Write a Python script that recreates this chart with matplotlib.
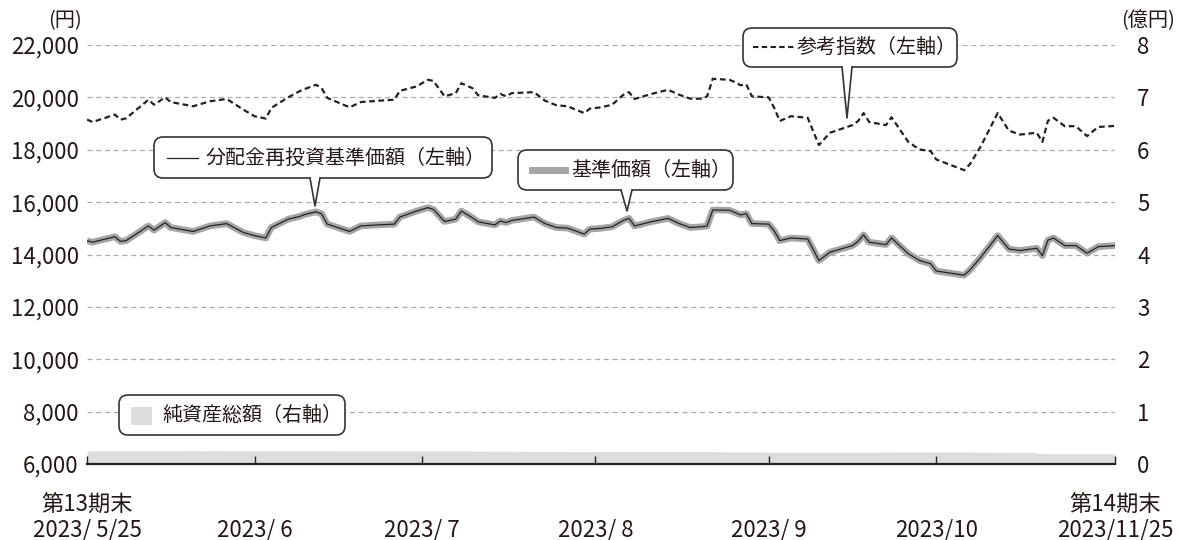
import pandas as pd
import matplotlib.pyplot as plt
from matplotlib.patches import FancyBboxPatch, Polygon, Rectangle
from matplotlib.lines import Line2D
from matplotlib.transforms import IdentityTransform
from matplotlib.ticker import FuncFormatter

plt.rcParams['font.family'] = ['Noto Sans CJK JP', 'DejaVu Sans']

# データ
dates = ['2023-05-25', '2023-05-26', '2023-05-30', '2023-05-31', '2023-06-01', '2023-06-05',
         '2023-06-06', '2023-06-08', '2023-06-09', '2023-06-13', '2023-06-16', '2023-06-19',
         '2023-06-22', '2023-06-24', '2023-06-26', '2023-06-27', '2023-06-30', '2023-07-02',
         '2023-07-03', '2023-07-05', '2023-07-06', '2023-07-07', '2023-07-11', '2023-07-13',
         '2023-07-16', '2023-07-19', '2023-07-20', '2023-07-23', '2023-07-25', '2023-07-26',
         '2023-07-28', '2023-07-30', '2023-07-31', '2023-08-02', '2023-08-03', '2023-08-06',
         '2023-08-07', '2023-08-08', '2023-08-09', '2023-08-13', '2023-08-15', '2023-08-17',
         '2023-08-19', '2023-08-22', '2023-08-23', '2023-08-25', '2023-08-27', '2023-08-29',
         '2023-08-30', '2023-08-31', '2023-09-03', '2023-09-06', '2023-09-08', '2023-09-10',
         '2023-09-12', '2023-09-13', '2023-09-14', '2023-09-17', '2023-09-18', '2023-09-19',
         '2023-09-20', '2023-09-21', '2023-09-24', '2023-09-25', '2023-09-26', '2023-09-28',
         '2023-10-01', '2023-10-03', '2023-10-05', '2023-10-09', '2023-10-10', '2023-10-11',
         '2023-10-12', '2023-10-15', '2023-10-16', '2023-10-19', '2023-10-21', '2023-10-23',
         '2023-10-24', '2023-10-29', '2023-10-30', '2023-11-01', '2023-11-04', '2023-11-06',
         '2023-11-08', '2023-11-11', '2023-11-12', '2023-11-13', '2023-11-14', '2023-11-16',
         '2023-11-18', '2023-11-20', '2023-11-22', '2023-11-25']

ref_index = [19150, 19060, 19340, 19150, 19200, 19910, 19720, 20000, 19820, 19660, 19850, 19940,
             19530, 19280, 19190, 19600, 20000, 20230, 20320, 20480, 20350, 19980, 19620, 19820,
             19870, 19910, 20250, 20420, 20670, 20630, 20040, 20160, 20540, 20350, 20080, 19980,
             20130, 20040, 20160, 20200, 19870, 19700, 19660, 19400, 19570, 19620, 19720, 20100,
             20200, 19940, 20130, 20290, 20100, 19950, 19950, 20040, 20710, 20670, 20580, 20460,
             20500, 20040, 20000, 19600, 19100, 19280, 19220, 18180, 18650, 18940, 19090, 19400,
             19060, 18940, 19240, 18300, 18010, 17950, 17630, 17220, 17440, 18140, 19400, 18730,
             18580, 18650, 18300, 19110, 19220, 18900, 18900, 18520, 18870, 18910]

nav = [14530, 14470, 14680, 14500, 14530, 15090, 14930, 15220, 15030, 14880, 15090, 15180,
       14840, 14720, 14630, 15030, 15350, 15450, 15530, 15630, 15550, 15160, 14880, 15090,
       15130, 15160, 15430, 15660, 15790, 15720, 15260, 15350, 15660, 15400, 15250, 15130,
       15280, 15220, 15300, 15430, 15180, 15030, 15010, 14780, 14970, 15000, 15060, 15300,
       15380, 15090, 15250, 15380, 15180, 15030, 15060, 15090, 15700, 15690, 15600, 15510,
       15560, 15180, 15160, 14900, 14530, 14630, 14590, 13770, 14090, 14340, 14500, 14750,
       14470, 14380, 14630, 14030, 13770, 13650, 13370, 13210, 13400, 13900, 14720, 14210,
       14150, 14240, 13960, 14550, 14630, 14340, 14340, 14050, 14300, 14340]

# 分配金なしのため基準価額と同じ
nav_reinvest = list(nav)

asset_dates = ['2023-05-25', '2023-06-15', '2023-07-10', '2023-08-01', '2023-08-20', '2023-09-10',
               '2023-09-25', '2023-10-10', '2023-10-25', '2023-11-10', '2023-11-12', '2023-11-25']
net_assets = [0.25, 0.255, 0.25, 0.25, 0.235, 0.24, 0.225, 0.225, 0.23, 0.22, 0.2, 0.2]

tick_dates = ['2023-05-25', '2023-06-24', '2023-07-24', '2023-08-24', '2023-09-24',
              '2023-10-24', '2023-11-25']
tick_labels = ['第13期末\n2023/ 5/25', '\n2023/ 6', '\n2023/ 7', '\n2023/ 8', '\n2023/ 9',
               '\n2023/10', '第14期末\n2023/11/25']

W, H = 1181, 540
txt = '#231815'
fs = 16

x = pd.to_datetime(dates)
xa = pd.to_datetime(asset_dates)
xt = pd.to_datetime(tick_dates)

fig = plt.figure(figsize=(W / 100, H / 100), dpi=100)
ax = fig.add_axes([87 / W, 1 - 464 / H, (1115 - 87) / W, (464 - 45) / H])
ax2 = ax.twinx()

# 純資産総額（右軸）
ax2.fill_between(xa, net_assets, 0, color='#dcdddd', lw=0)
ax2.set_ylim(0, 8)
ax2.set_yticks(range(0, 9))
for s in ax2.spines.values():
    s.set_visible(False)
ax2.tick_params(axis='y', length=0, pad=16, labelsize=fs, labelcolor=txt)

ax.set_zorder(ax2.get_zorder() + 1)
ax.patch.set_visible(False)

ax.plot(x, nav, color='#a5a5a8', lw=4.8, solid_joinstyle='round', solid_capstyle='butt')
ax.plot(x, nav_reinvest, color='#222222', lw=0.9)
ax.plot(x, ref_index, color='#222222', lw=1.6, ls=(0, (2.6, 1.6)))

ax.set_ylim(6000, 22000)
ax.set_yticks(range(6000, 22001, 2000))
ax.yaxis.set_major_formatter(FuncFormatter(lambda v, p: f'{int(v):,}'))
ax.yaxis.grid(True, color='#aaaaaa', lw=0.9, ls=(0, (4, 3)))
ax.tick_params(axis='y', length=0, pad=6, labelsize=fs, labelcolor=txt)

ax.set_xlim(x[0], x[-1])
ax.set_xticks(xt)
ax.set_xticklabels(tick_labels, linespacing=1.15)
ax.tick_params(axis='x', direction='in', length=6, width=1, pad=21, labelsize=fs,
               labelcolor=txt, color='#222222')
for side in ['top', 'left', 'right']:
    ax.spines[side].set_visible(False)
ax.spines['bottom'].set_linewidth(1.6)
ax.spines['bottom'].set_color('#222222')

T = IdentityTransform()

# 単位
fig.text(65, H - 21, '(円)', transform=T, ha='center', va='center', fontsize=14.5, color=txt)
fig.text(1148, H - 21, '(億円)', transform=T, ha='center', va='center', fontsize=14.5,
         color=txt)


def bubble(x0, y0, x1, y1, tip=None, base=None):
    box = FancyBboxPatch((x0, H - y1), x1 - x0, y1 - y0,
                         boxstyle='round,pad=0,rounding_size=9', transform=T,
                         fc='white', ec='#333333', lw=1.2, zorder=5)
    fig.add_artist(box)
    if tip is not None:
        yb = H - y1
        tx, ty = tip[0], H - tip[1]
        fig.add_artist(Polygon([(base[0], yb + 1.5), (base[1], yb + 1.5), (tx, ty)],
                               closed=True, transform=T, fc='white', ec='none', zorder=6))
        fig.add_artist(Line2D([base[0], tx, base[1]], [yb, ty, yb], transform=T,
                              color='#333333', lw=1.2, zorder=7))


lfs = 14.4

bubble(743, 28, 957, 67, tip=(847, 118), base=(842, 852))
fig.add_artist(Line2D([753, 795], [H - 47, H - 47], transform=T, color='#222222', lw=1.5,
                      ls=(0, (2.6, 1.6)), zorder=8))
fig.text(797, H - 47, '参考指数（左軸）', transform=T, va='center', fontsize=lfs, color=txt,
         zorder=8)

bubble(154, 137, 492, 178, tip=(315, 206), base=(310, 320))
fig.add_artist(Line2D([167, 198], [H - 158, H - 158], transform=T, color='#222222', lw=0.9,
                      zorder=8))
fig.text(206, H - 158, '分配金再投資基準価額（左軸）', transform=T, va='center', fontsize=lfs,
         color=txt, zorder=8)

bubble(518, 150, 733, 190, tip=(627, 211), base=(621, 632))
fig.add_artist(Line2D([532, 565], [H - 170, H - 170], transform=T, color='#a5a5a8', lw=5,
                      zorder=8))
fig.text(571, H - 170, '基準価額（左軸）', transform=T, va='center', fontsize=lfs, color=txt,
         zorder=8)

bubble(119, 395, 345, 435)
fig.add_artist(Rectangle((131, H - 425), 21, 18, transform=T, fc='#dcdddd', ec='none', zorder=8))
fig.text(162, H - 415, '純資産総額（右軸）', transform=T, va='center', fontsize=lfs, color=txt,
         zorder=8)

fig.savefig('out.png', dpi=100)
